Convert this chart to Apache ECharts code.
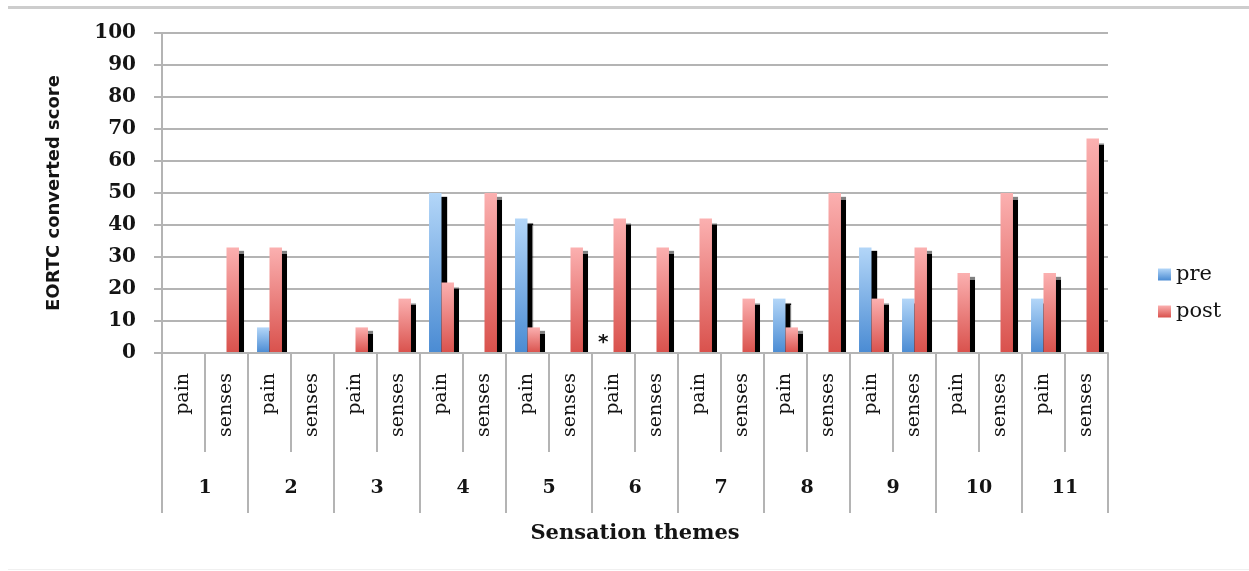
<!DOCTYPE html>
<html>
<head>
<meta charset="utf-8">
<title>EORTC converted score by sensation theme</title>
<script src="https://cdn.jsdelivr.net/npm/echarts@6/dist/echarts.min.js"></script>
<style>
  html, body { margin: 0; padding: 0; background: #ffffff; }
  #chart { width: 1249px; height: 571px; }
</style>
</head>
<body>
<div id="chart"></div>
<script>
// Sensation themes (outer axis level) and the two measures in each theme (inner level)
const themes = ['1', '2', '3', '4', '5', '6', '7', '8', '9', '10', '11'];
const measures = ['pain', 'senses'];
const categories = themes.flatMap(() => measures);

// EORTC converted scores, one value per theme/measure pair
const preValues  = [0, 0, 8, 0, 0, 0, 50, 0, 42, 0, 0, 0, 0, 0, 17, 0, 33, 17, 0, 0, 17, 0];
const postValues = [0, 33, 33, 0, 8, 17, 22, 50, 8, 33, 42, 33, 42, 17, 8, 50, 17, 33, 25, 50, 25, 67];
// Annotation shown in place of a "pre" bar
const preNotes   = ['', '', '', '', '', '', '', '', '', '', '*', '', '', '', '', '', '', '', '', '', '', ''];

const yMin = 0, yMax = 100, yStep = 10;

const SERIF = '"DejaVu Serif", "Liberation Serif", serif';
const SANS = '"DejaVu Sans", "Liberation Sans", sans-serif';
const INK = '#141414';
const RULE = '#b4b4b4';

// Plot area box
const GRID = { left: 162, right: 141, top: 33, bottom: 218 };
const W = 1249, H = 571;

const grad = (top, bottom) => new echarts.graphic.LinearGradient(0, 0, 0, 1, [
  { offset: 0, color: top },
  { offset: 1, color: bottom }
]);

// Hard black drop shadow to the lower right of each bar
const barShadow = {
  shadowColor: '#000000',
  shadowBlur: 1,
  shadowOffsetX: 5,
  shadowOffsetY: 4
};

const preData = preValues.map((v, i) => preNotes[i]
  ? { value: v, label: { show: true, formatter: preNotes[i] } }
  : v);

const chart = echarts.init(document.getElementById('chart'), null, { renderer: 'canvas' });

chart.setOption({
  backgroundColor: '#ffffff',
  animation: false,
  graphic: [
    { type: 'rect', left: 8, top: 6, shape: { width: W - 8, height: 3 }, style: { fill: '#cdcdcd' } },
    { type: 'rect', left: 8, top: H - 2, shape: { width: W - 8, height: 1 }, style: { fill: '#f0f0f0' } },
    // keeps the bar shadows from spilling below the category axis
    {
      type: 'rect', z: 3,
      left: GRID.left + 1, top: H - GRID.bottom + 1,
      shape: { width: W - GRID.left - GRID.right + 8, height: 6 },
      style: { fill: '#ffffff' }
    }
  ],
  grid: Object.assign({ containLabel: false }, GRID),
  legend: {
    orient: 'vertical',
    left: 1153,
    top: 259,
    icon: 'rect',
    itemWidth: 13,
    itemHeight: 12,
    itemGap: 16,
    itemStyle: { shadowColor: 'rgba(0,0,0,0)', shadowBlur: 0, shadowOffsetX: 0, shadowOffsetY: 0 },
    textStyle: { fontFamily: SERIF, fontSize: 21, color: INK },
    data: ['pre', 'post']
  },
  xAxis: [
    {
      type: 'category',
      data: categories,
      position: 'bottom',
      z: 5,
      axisLine: { show: true, lineStyle: { color: RULE, width: 2 } },
      axisTick: { show: true, interval: 0, length: 99, lineStyle: { color: RULE, width: 2 } },
      axisLabel: {
        interval: 0,
        rotate: 90,
        margin: 20,
        fontFamily: SERIF,
        fontSize: 19,
        color: INK
      },
      splitLine: { show: false }
    },
    {
      type: 'category',
      data: themes,
      position: 'bottom',
      z: 5,
      axisLine: { show: false },
      axisTick: { show: true, interval: 0, length: 160, lineStyle: { color: RULE, width: 2 } },
      axisLabel: {
        interval: 0,
        margin: 126,
        fontFamily: SERIF,
        fontWeight: 'bold',
        fontSize: 19,
        color: INK
      },
      name: 'Sensation themes',
      nameLocation: 'middle',
      nameGap: 170,
      nameTextStyle: { fontFamily: SERIF, fontWeight: 'bold', fontSize: 21, color: INK }
    }
  ],
  yAxis: {
    type: 'value',
    min: yMin,
    max: yMax,
    interval: yStep,
    axisLine: { show: true, lineStyle: { color: RULE, width: 2 } },
    axisTick: { show: true, length: 8, lineStyle: { color: RULE, width: 2 } },
    axisLabel: {
      margin: 26,
      fontFamily: SERIF,
      fontWeight: 'bold',
      fontSize: 20,
      color: INK
    },
    splitLine: { show: true, lineStyle: { color: RULE, width: 2 } },
    name: 'EORTC converted score',
    nameLocation: 'middle',
    nameRotate: 90,
    nameGap: 99,
    nameTextStyle: { fontFamily: SANS, fontWeight: 'bold', fontSize: 18, color: INK }
  },
  series: [
    {
      name: 'pre',
      type: 'bar',
      xAxisIndex: 0,
      barGap: '0%',
      barCategoryGap: '42%',
      data: preData,
      itemStyle: Object.assign({ color: grad('#b3d6f8', '#4a8bd3') }, barShadow),
      label: {
        show: false,
        position: 'top',
        distance: 0,
        offset: [-4, 0],
        fontFamily: SANS,
        fontWeight: 'bold',
        fontSize: 20,
        color: INK
      }
    },
    {
      name: 'post',
      type: 'bar',
      xAxisIndex: 0,
      barGap: '0%',
      barCategoryGap: '42%',
      data: postValues,
      itemStyle: Object.assign({ color: grad('#fbb0b0', '#d9514c') }, barShadow)
    }
  ]
});
</script>
</body>
</html>
